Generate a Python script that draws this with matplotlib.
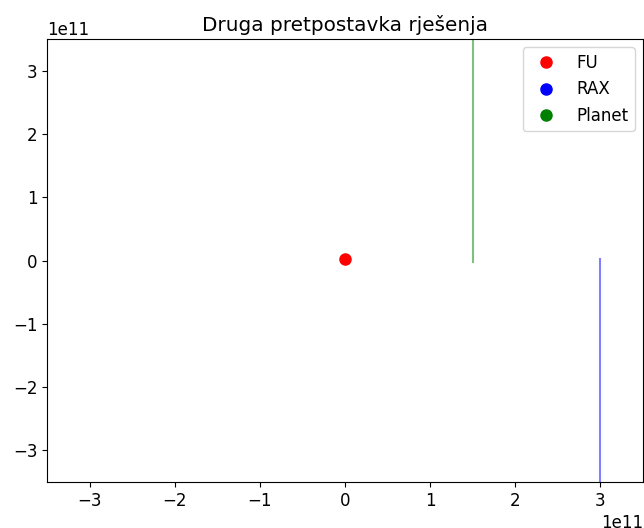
import numpy as np
import matplotlib
matplotlib.use('Agg')
import matplotlib.pyplot as plt

plt.rcParams['font.size'] = 12

# positions (m)
fu_x = [0.0]
fu_y = [0.02e11]

rax_x = [3.0e11, 3.0e11]
rax_y = [0.02e11, -4.0e11]

planet_x = [1.5e11, 1.5e11]
planet_y = [-0.02e11, 4.0e11]

lim = 3.5e11

fig = plt.figure(figsize=(6.44, 5.28), dpi=100)
ax = fig.add_axes([0.073, 0.087, 0.9255, 0.839])

# trajectories
ax.plot(planet_x, planet_y, color='green', alpha=0.5, lw=1.5)
ax.plot(rax_x, rax_y, color='blue', alpha=0.5, lw=1.5)

# bodies
ax.plot(fu_x, fu_y, 'o', color='red', markersize=8, label='FU')
ax.plot([], [], 'o', color='blue', markersize=8, label='RAX')
ax.plot([], [], 'o', color='green', markersize=8, label='Planet')

ax.set_xlim(-lim, lim)
ax.set_ylim(-lim, lim)
ax.set_title('Druga pretpostavka rješenja')
ax.legend(loc='upper right')

plt.savefig('out.png', dpi=100)
plt.close()
